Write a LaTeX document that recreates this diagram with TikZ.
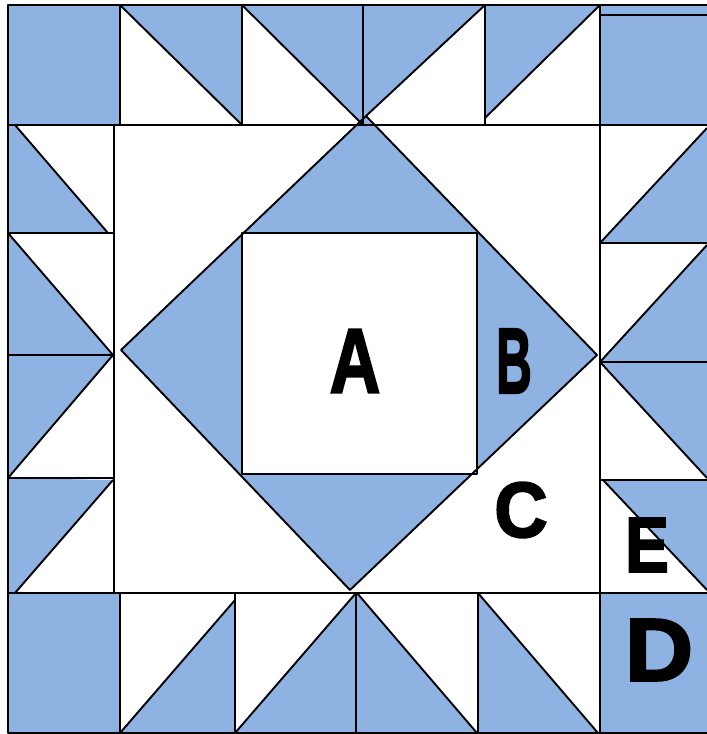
\documentclass[tikz,border=0pt]{standalone}
\usepackage{graphicx}
\usepackage{fontspec}
\setmainfont{Liberation Sans}
\newfontfamily\heavyfont{Liberation Sans}[UprightFont={* Bold},UprightFeatures={FakeBold=2.5}]
\usepackage{tikz}
\definecolor{quiltblue}{RGB}{142,178,226}

\begin{document}
\begin{tikzpicture}[x=1pt,y=-1pt,
  patch/.style={fill=quiltblue},
  seam/.style={line width=1.9pt,line join=round},
  letter/.style={inner sep=0pt,font=\heavyfont\fontsize{90}{90}\selectfont}]
  \useasboundingbox (0,0) rectangle (707,734);
  % blue patches, top row
  \fill[patch] (8,5) rectangle (120,125);
  \fill[patch] (120,5) -- (242,5) -- (242,125) -- cycle;
  \fill[patch] (242,5) -- (363,5) -- (363,125) -- cycle;
  \fill[patch] (363,5) -- (485,5) -- (366,116) -- (363,116) -- cycle;
  \fill[patch] (485,5) -- (600,5) -- (485,118) -- cycle;
  \fill[patch] (600,5) rectangle (707,125);
  % left column
  \fill[patch] (8,125) -- (15,125) -- (108,233) -- (8,233) -- cycle;
  \fill[patch] (8,233) -- (113,355) -- (8,355) -- cycle;
  \fill[patch] (8,355) -- (113,355) -- (8,478) -- cycle;
  \fill[patch] (8,478) -- (113,480) -- (15,593) -- (8,593) -- cycle;
  % right column
  \fill[patch] (707,128) -- (707,243) -- (600,243) -- cycle;
  \fill[patch] (707,245) -- (707,362) -- (600,362) -- cycle;
  \fill[patch] (600,362) -- (707,362) -- (707,478) -- cycle;
  \fill[patch] (603,480) -- (707,480) -- (707,590) -- cycle;
  % bottom row
  \fill[patch] (8,593) rectangle (120,733);
  \fill[patch] (235,600) -- (235,733) -- (120,733) -- cycle;
  \fill[patch] (356,593) -- (356,733) -- (235,733) -- cycle;
  \fill[patch] (357,593) -- (477,733) -- (357,733) -- cycle;
  \fill[patch] (478,593) -- (598,733) -- (478,733) -- cycle;
  \fill[patch] (600,593) rectangle (707,733);
  % centre star
  \fill[patch] (366,116) -- (597,355) -- (350,590) -- (121,350) -- cycle;
  \fill[white] (242,233) rectangle (477,474);

  % seams
  \draw[seam] (707,5) -- (8,5) -- (8,733) -- (707,733);
  \draw[seam] (600,15) -- (707,15);
  \draw[seam] (8,125) -- (707,125);
  \draw[seam] (8,593) -- (707,593);
  \draw[seam] (120,5) -- (120,125);
  \draw[seam] (242,5) -- (242,125);
  \draw[seam] (363,5) -- (363,125);
  \draw[seam] (485,5) -- (485,125);
  \draw[seam] (600,5) -- (600,733);
  \draw[seam] (114,125) -- (114,593);
  \draw[seam] (8,233) -- (114,233);
  \draw[seam] (8,355) -- (114,355);
  \draw[seam] (8,478) -- (114,478);
  \draw[seam] (600,243) -- (707,243);
  \draw[seam] (600,362) -- (707,362);
  \draw[seam] (600,480) -- (707,480);
  \draw[seam] (120,593) -- (120,733);
  \draw[seam] (235,593) -- (235,733);
  \draw[seam] (356,593) -- (356,733);
  \draw[seam] (478,593) -- (478,733);
  % diagonals
  \draw[seam] (120,5) -- (242,125);
  \draw[seam] (242,5) -- (363,125);
  \draw[seam] (485,5) -- (366,116);
  \draw[seam] (600,5) -- (485,118);
  \draw[seam] (15,125) -- (108,233);
  \draw[seam] (8,233) -- (113,355);
  \draw[seam] (113,355) -- (8,478);
  \draw[seam] (113,480) -- (15,593);
  \draw[seam] (707,128) -- (600,243);
  \draw[seam] (707,245) -- (600,362);
  \draw[seam] (600,362) -- (707,478);
  \draw[seam] (603,480) -- (707,590);
  \draw[seam] (235,600) -- (120,733);
  \draw[seam] (356,593) -- (235,733);
  \draw[seam] (357,593) -- (477,733);
  \draw[seam] (478,593) -- (598,733);
  \draw[seam] (366,116) -- (597,355) -- (350,590) -- (121,350) -- cycle;
  \draw[seam] (242,233) rectangle (477,474);

  % labels
  \node[letter] (lblA) at (355,361) {\scalebox{0.78}[1.02]{A}};
  \node[letter] (lblB) at (514,361) {\scalebox{0.55}[1.03]{B}};
  \node[letter] (lblC) at (521,510) {\scalebox{0.82}[0.87]{C}};
  \node[letter] (lblE) at (647,545) {\scalebox{0.73}[0.87]{E}};
  \node[letter] (lblD) at (659,650) {\scalebox{1.05}[0.99]{D}};
\end{tikzpicture}
\end{document}
